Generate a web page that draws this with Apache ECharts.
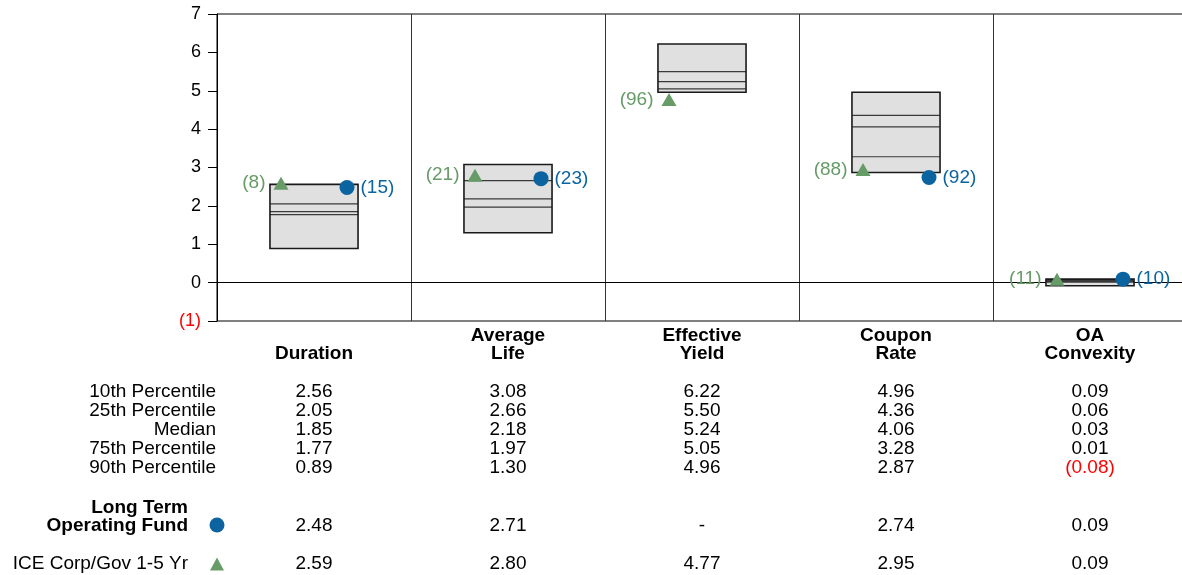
<!DOCTYPE html>
<html>
<head>
<meta charset="utf-8">
<script src="https://cdn.jsdelivr.net/npm/echarts@6/dist/echarts.min.js"></script>
<style>
html,body{margin:0;padding:0;background:#fff;overflow:hidden;}
#c{width:1190px;height:575px;}
</style>
</head>
<body>
<div id="c"></div>
<script>
// ---- data ----
var categories = ['Duration', 'Average Life', 'Effective Yield', 'Coupon Rate', 'OA Convexity'];
var categoryLabels = ['\nDuration', 'Average\nLife', 'Effective\nYield', 'Coupon\nRate', 'OA\nConvexity'];
var rowLabels = ['10th Percentile', '25th Percentile', 'Median', '75th Percentile', '90th Percentile'];
var p10 = [2.56, 3.08, 6.22, 4.96, 0.09];
var p25 = [2.05, 2.66, 5.50, 4.36, 0.06];
var p50 = [1.85, 2.18, 5.24, 4.06, 0.03];
var p75 = [1.77, 1.97, 5.05, 3.28, 0.01];
var p90 = [0.89, 1.30, 4.96, 2.87, -0.08];
var fundName = 'Long Term\nOperating Fund';
var benchName = 'ICE Corp/Gov 1-5 Yr';
var fundValues = [2.48, 2.71, null, 2.74, 0.09];
var benchValues = [2.59, 2.80, 4.77, 2.95, 0.09];
var fundRanks = [15, 23, null, 92, 10];
var benchRanks = [8, 21, 96, 88, 11];
var yMin = -1, yMax = 7, yInterval = 1;

// ---- styles ----
var FONT = 'Liberation Sans, Arial, Helvetica, sans-serif';
var GREEN = '#679b68';
var BLUE = '#0b64a0';
var RED = '#ff0000';
var FS = 19;
var AFS = 18;

function fmt(v) {
  if (v === null || v === undefined) return '-';
  if (v < 0) return '(' + Math.abs(v).toFixed(2) + ')';
  return v.toFixed(2);
}

var chart = echarts.init(document.getElementById('c'), null, {renderer: 'canvas'});

var boxData = categories.map(function (c, i) {
  return [i, p10[i], p25[i], p50[i], p75[i], p90[i]];
});

var option = {
  animation: false,
  backgroundColor: '#fff',
  grid: {
    left: 217, top: 14, width: 970, height: 307,
    show: true, borderColor: '#000', borderWidth: 1, backgroundColor: 'transparent'
  },
  xAxis: {
    type: 'category',
    data: categories,
    boundaryGap: true,
    axisLine: {show: true, lineStyle: {color: '#000', width: 1}},
    axisTick: {show: false},
    splitLine: {show: true, interval: 0, lineStyle: {color: '#333', width: 1}},
    axisLabel: {
      interval: 0,
      margin: 6,
      fontFamily: FONT, fontSize: FS, fontWeight: 'bold', color: '#000',
      lineHeight: 18,
      formatter: function (v, i) { return categoryLabels[i]; }
    }
  },
  yAxis: {
    type: 'value',
    min: yMin, max: yMax, interval: yInterval,
    axisLine: {show: true, lineStyle: {color: '#000', width: 1}},
    axisTick: {show: true, length: 9, lineStyle: {color: '#000'}},
    splitLine: {show: false},
    axisLabel: {
      margin: 16,
      fontFamily: FONT, fontSize: AFS,
      color: function (v) { return Number(v) < 0 ? RED : '#000'; },
      formatter: function (v) { return v < 0 ? '(' + Math.abs(v) + ')' : String(v); }
    }
  },
  series: [
    {
      type: 'custom',
      name: 'box',
      data: boxData,
      z: 2,
      renderItem: function (params, api) {
        var idx = api.value(0);
        var top = api.coord([idx, api.value(1)]);
        var q25 = api.coord([idx, api.value(2)]);
        var med = api.coord([idx, api.value(3)]);
        var q75 = api.coord([idx, api.value(4)]);
        var bot = api.coord([idx, api.value(5)]);
        var half = api.size([1, 0])[0] * 0.227;
        var x0 = top[0] - half, x1 = top[0] + half;
        function ln(y) {
          return {type: 'line', shape: {x1: x0, y1: y, x2: x1, y2: y},
            style: {stroke: '#3a3a3a', lineWidth: 1.2}};
        }
        return {
          type: 'group',
          children: [
            {type: 'rect', shape: {x: x0, y: top[1], width: x1 - x0, height: bot[1] - top[1]},
              style: {fill: '#e0e0e0', stroke: 'none'}},
            ln(q25[1]), ln(med[1]), ln(q75[1]),
            {type: 'rect', shape: {x: x0, y: top[1], width: x1 - x0, height: bot[1] - top[1]},
              style: {fill: 'none', stroke: '#1a1a1a', lineWidth: 1.6}}
          ]
        };
      },
      markLine: {
        silent: true, symbol: 'none', label: {show: false},
        lineStyle: {color: '#000', width: 1, type: 'solid'},
        z: 1,
        data: [{yAxis: 0}]
      }
    },
    {
      type: 'scatter',
      name: benchName,
      z: 5,
      symbol: 'triangle',
      symbolSize: [15, 13],
      symbolOffset: [-33, 0],
      itemStyle: {color: GREEN, opacity: 1},
      data: categories.map(function (c, i) {
        return benchValues[i] === null ? [i, null] : [i, benchValues[i]];
      }),
      label: {
        show: true, position: 'left', distance: 8,
        fontFamily: FONT, fontSize: FS, color: GREEN,
        formatter: function (p) { return '(' + benchRanks[p.dataIndex] + ')'; }
      }
    },
    {
      type: 'scatter',
      name: fundName,
      z: 5,
      symbol: 'circle',
      symbolSize: 15,
      symbolOffset: [33, 0],
      itemStyle: {color: BLUE, opacity: 1},
      data: categories.map(function (c, i) {
        return fundValues[i] === null ? [i, null] : [i, fundValues[i]];
      }),
      label: {
        show: true, position: 'right', distance: 6,
        fontFamily: FONT, fontSize: FS, color: BLUE,
        formatter: function (p) { return fundRanks[p.dataIndex] === null ? '' : '(' + fundRanks[p.dataIndex] + ')'; }
      }
    }
  ]
};

chart.setOption(option);

// ---- table under the chart ----
var rowY = [392, 411, 430, 449, 468];
var fundY = 526, benchY = 564;
var labelRight = 216, legendRight = 188, legendMarkX = 217;
var centers = categories.map(function (c, i) { return chart.convertToPixel({xAxisIndex: 0}, i); });
var rows = [p10, p25, p50, p75, p90];
var g = [];
function txt(t, x, y, align, color, weight) {
  g.push({type: 'text', x: x, y: y, silent: true,
    style: {text: t, align: align, verticalAlign: 'middle', fill: color || '#000',
      fontFamily: FONT, fontSize: FS, fontWeight: weight || 'normal', lineHeight: 18}});
}
rowLabels.forEach(function (l, r) {
  txt(l, labelRight, rowY[r], 'right');
  rows[r].forEach(function (v, i) {
    txt(fmt(v), centers[i], rowY[r], 'center', v < 0 ? RED : '#000');
  });
});
g.push({type: 'text', x: legendRight, y: fundY + 9, silent: true,
  style: {text: fundName, align: 'right', verticalAlign: 'bottom', fill: '#000',
    fontFamily: FONT, fontSize: FS, fontWeight: 'bold', lineHeight: 18}});
g.push({type: 'circle', shape: {cx: legendMarkX, cy: fundY - 1, r: 7.5}, style: {fill: BLUE}, silent: true});
txt(benchName, legendRight, benchY, 'right');
g.push({type: 'polygon', shape: {points: [[legendMarkX, benchY - 6.5], [legendMarkX + 7, benchY + 6.5], [legendMarkX - 7, benchY + 6.5]]},
  style: {fill: GREEN}, silent: true});
fundValues.forEach(function (v, i) { txt(fmt(v), centers[i], fundY, 'center', v !== null && v < 0 ? RED : '#000'); });
benchValues.forEach(function (v, i) { txt(fmt(v), centers[i], benchY, 'center', v !== null && v < 0 ? RED : '#000'); });
chart.setOption({graphic: {elements: g}});
</script>
</body>
</html>
